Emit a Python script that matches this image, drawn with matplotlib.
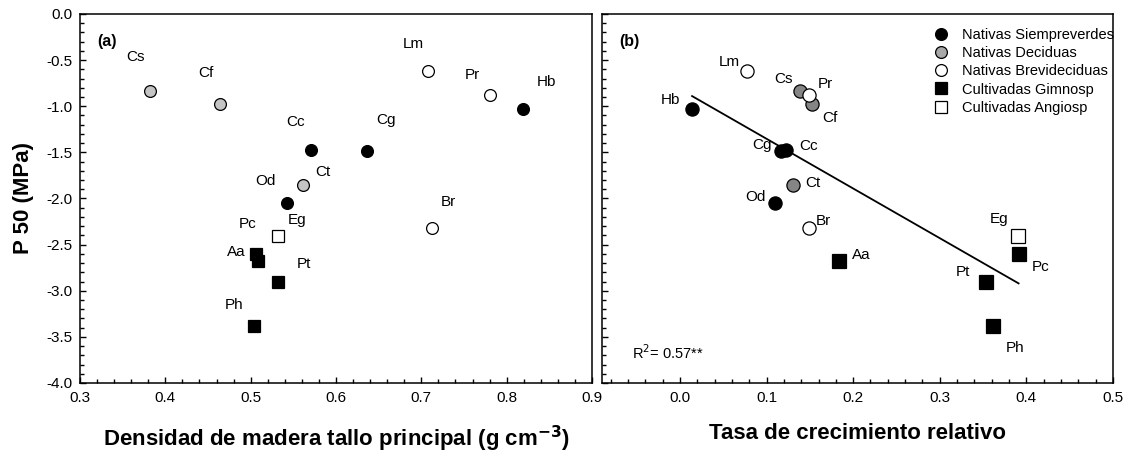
import numpy as np
import matplotlib
matplotlib.use("Agg")
from matplotlib import pyplot as plt
from matplotlib.ticker import MultipleLocator

plt.rcParams['font.family'] = ['Liberation Sans', 'DejaVu Sans']

# Species codes and group of each one
species = ['Hb', 'Cc', 'Cg', 'Od', 'Cs', 'Cf', 'Ct', 'Lm', 'Pr', 'Br',
           'Pc', 'Aa', 'Pt', 'Ph', 'Eg']
group = ['sv', 'sv', 'sv', 'sv', 'dec', 'dec', 'dec', 'brev', 'brev', 'brev',
         'gim', 'gim', 'gim', 'gim', 'ang']

# P50 (MPa)
p50 = [-1.03, -1.47, -1.49, -2.05, -0.84, -0.98, -1.85, -0.62, -0.88, -2.32,
       -2.60, -2.68, -2.91, -3.38, -2.41]
# Densidad de madera (g cm-3)
density = [0.819, 0.571, 0.636, 0.542, 0.382, 0.464, 0.561, 0.708, 0.781, 0.713,
           0.506, 0.509, 0.532, 0.504, 0.532]
# Tasa de crecimiento relativo
rgr = [0.014, 0.122, 0.117, 0.110, 0.139, 0.153, 0.131, 0.077, 0.149, 0.149,
       0.391, 0.184, 0.353, 0.361, 0.390]

# label offsets (pixels) for each panel
off_a = [(24, 27), (-16, 28), (19, 31), (-21, 22), (-14, 34), (-14, 31), (20, 13),
         (-15, 27), (-18, 20), (16, 26), (-8, 30), (-22, 9), (26, 18), (-20, 21),
         (19, 16)]
off_b = [(-22, 9), (23, 4), (-19, 6), (-20, 6), (-17, 12), (17, -14), (19, 2),
         (-17, 9), (16, 11), (14, 7), (22, -13), (22, 6), (-23, 10), (22, -22),
         (-19, 17)]

group_names = {'sv': 'Nativas Siempreverdes', 'dec': 'Nativas Deciduas',
               'brev': 'Nativas Brevideciduas', 'gim': 'Cultivadas Gimnosp',
               'ang': 'Cultivadas Angiosp'}
marker = {'sv': 'o', 'dec': 'o', 'brev': 'o', 'gim': 's', 'ang': 's'}
face_a = {'sv': 'black', 'dec': '#c4c4c4', 'brev': 'white', 'gim': 'black', 'ang': 'white'}
face_b = {'sv': 'black', 'dec': '#858585', 'brev': 'white', 'gim': 'black', 'ang': 'white'}
face_leg = {'sv': 'black', 'dec': '#a8a8a8', 'brev': 'white', 'gim': 'black', 'ang': 'white'}

fig = plt.figure(figsize=(11.27, 4.53), dpi=100)
ax1 = fig.add_axes([80 / 1127, 70 / 453, 512 / 1127, 369 / 453])
ax2 = fig.add_axes([602 / 1127, 70 / 453, 511 / 1127, 369 / 453])


def draw(ax, x, faces, offs, ms):
    for i in range(len(species)):
        g = group[i]
        ax.plot(x[i], p50[i], linestyle='none', marker=marker[g], ms=ms,
                mfc=faces[g], mec='black', mew=0.9, zorder=3)
        ax.annotate(species[i], (x[i], p50[i]), xytext=offs[i],
                    textcoords='offset pixels', ha='center', va='center',
                    fontsize=11)


draw(ax1, density, face_a, off_a, 8.5)
draw(ax2, rgr, face_b, off_b, 9.5)

# regression line panel b
coef = np.polyfit(rgr, p50, 1)
xl = np.array([min(rgr), max(rgr)])
ax2.plot(xl, np.polyval(coef, xl), color='black', lw=1.3, zorder=2)
ax2.text(0.059, 0.081, 'R$^2$= 0.57**', transform=ax2.transAxes,
         ha='left', va='center', fontsize=10.5)

ax1.set_xlim(0.3, 0.9)
ax2.set_xlim(-0.09, 0.5)
for ax in (ax1, ax2):
    ax.set_ylim(-4.0, 0.0)
    ax.yaxis.set_major_locator(MultipleLocator(0.5))
    ax.yaxis.set_minor_locator(MultipleLocator(0.1))
    ax.xaxis.set_major_locator(MultipleLocator(0.1))
    ax.xaxis.set_minor_locator(MultipleLocator(0.02))
    ax.tick_params(which='both', direction='in', labelsize=11, width=1)
    ax.tick_params(which='major', length=4.5)
    ax.tick_params(which='minor', length=3)
    ax.tick_params(axis='x', pad=6)
    ax.tick_params(axis='y', pad=5.5)
    for s in ax.spines.values():
        s.set_linewidth(1.1)

ax1.yaxis.set_major_formatter(plt.FormatStrFormatter('%.1f'))
ax1.xaxis.set_major_formatter(plt.FormatStrFormatter('%.1f'))
ax2.xaxis.set_major_formatter(plt.FormatStrFormatter('%.1f'))
ax2.set_xticks([0.0, 0.1, 0.2, 0.3, 0.4, 0.5])
ax2.tick_params(axis='y', labelleft=False)

ax1.text(0.052, 0.926, '(a)', transform=ax1.transAxes, ha='center', va='center',
         fontsize=11.5, fontweight='bold')
ax2.text(0.053, 0.926, '(b)', transform=ax2.transAxes, ha='center', va='center',
         fontsize=11.5, fontweight='bold')

ax1.set_ylabel('P 50 (MPa)', fontsize=16, fontweight='bold', labelpad=9)
ax1.set_xlabel('Densidad de madera tallo principal (g cm$^{\\mathbf{-3}}$)',
               fontsize=16, fontweight='bold', labelpad=13)
ax2.set_xlabel('Tasa de crecimiento relativo', fontsize=16, fontweight='bold',
               labelpad=13)

handles = []
for g in ['sv', 'dec', 'brev', 'gim', 'ang']:
    h, = ax2.plot([], [], linestyle='none', marker=marker[g], ms=8.5,
                  mfc=face_leg[g], mec='black', mew=0.9, label=group_names[g])
    handles.append(h)
ax2.legend(handles=handles, loc='upper right', bbox_to_anchor=(1.02, 0.985),
           frameon=False, fontsize=10.5, labelspacing=0.28, handletextpad=0.9,
           borderaxespad=0.2, handlelength=1.2)

fig.savefig('out.png', dpi=100)
